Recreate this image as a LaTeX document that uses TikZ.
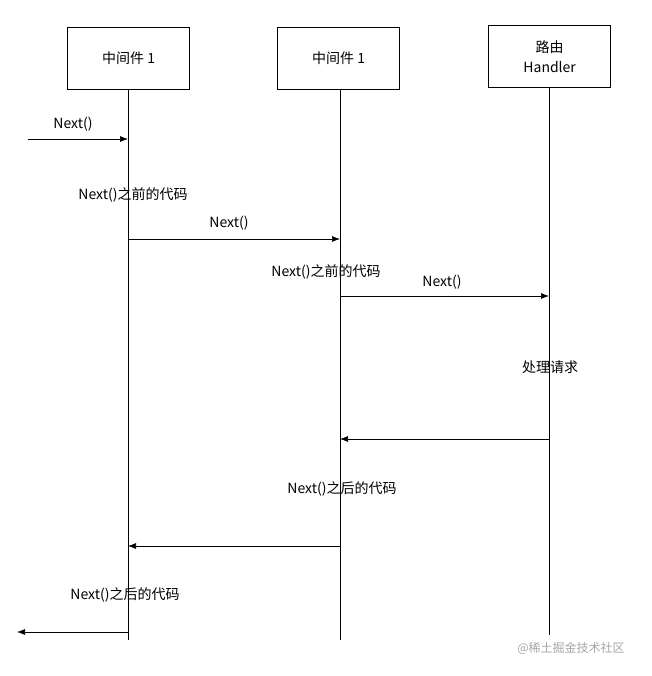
\documentclass[tikz,border=0pt]{standalone}
\usepackage{fontspec}
\setmainfont{Noto Sans CJK SC}
\begin{document}
\begin{tikzpicture}[x=1pt,y=-1pt,
  box/.style={draw,line width=1.3pt,minimum width=122pt,minimum height=62pt,anchor=north west,inner sep=0pt,align=center,font=\fontsize{14}{20}\selectfont},
  lbl/.style={font=\fontsize{14}{16}\selectfont,inner sep=0pt},
  msg/.style={-{Latex[length=8pt,width=6pt]},line width=0.7pt},
  life/.style={line width=0.7pt}]
\usetikzlibrary{arrows.meta}
\useasboundingbox (0,0) rectangle (651,676);
\node[box] (b1) at (67,27) {中间件 1};
\node[box] (b2) at (277,27) {中间件 1};
\node[box] (b3) at (488,25) {路由\\Handler};
\coordinate (l1e) at (128,640);
\coordinate (l2e) at (340,640);
\coordinate (l3e) at (549,635);
\draw[life] (b1.south -| 128,0) -- (l1e);
\draw[life] (b2.south -| 340,0) -- (l2e);
\draw[life] (b3.south -| 549,0) -- (l3e);
\coordinate (s0) at (28,139); \coordinate (e0) at (128,139);
\draw[msg] (s0) -- (e0);
\node[lbl] (t0) at (73,124) {Next()};
\node[lbl] (t1) at (133,195) {Next()之前的代码};
\coordinate (s1) at (129,239); \coordinate (e1) at (340,239);
\draw[msg] (s1) -- (e1);
\node[lbl] (t2) at (229,223) {Next()};
\node[lbl] (t3) at (326,272) {Next()之前的代码};
\coordinate (s2) at (341,296); \coordinate (e2) at (549,296);
\draw[msg] (s2) -- (e2);
\node[lbl] (t4) at (442,282) {Next()};
\node[lbl] (t5) at (550,367) {处理请求};
\coordinate (s3) at (549,439); \coordinate (e3) at (340,439);
\draw[msg] (s3) -- (e3);
\node[lbl] (t6) at (342,489) {Next()之后的代码};
\coordinate (s4) at (340,546); \coordinate (e4) at (128,546);
\draw[msg] (s4) -- (e4);
\node[lbl] (t7) at (125,595) {Next()之后的代码};
\coordinate (s5) at (128,632); \coordinate (e5) at (17,632);
\draw[msg] (s5) -- (e5);
\node[font=\fontsize{12}{14}\selectfont,text=gray!70,inner sep=0pt] (wm) at (571,648) {@稀土掘金技术社区};
\end{tikzpicture}
\end{document}
